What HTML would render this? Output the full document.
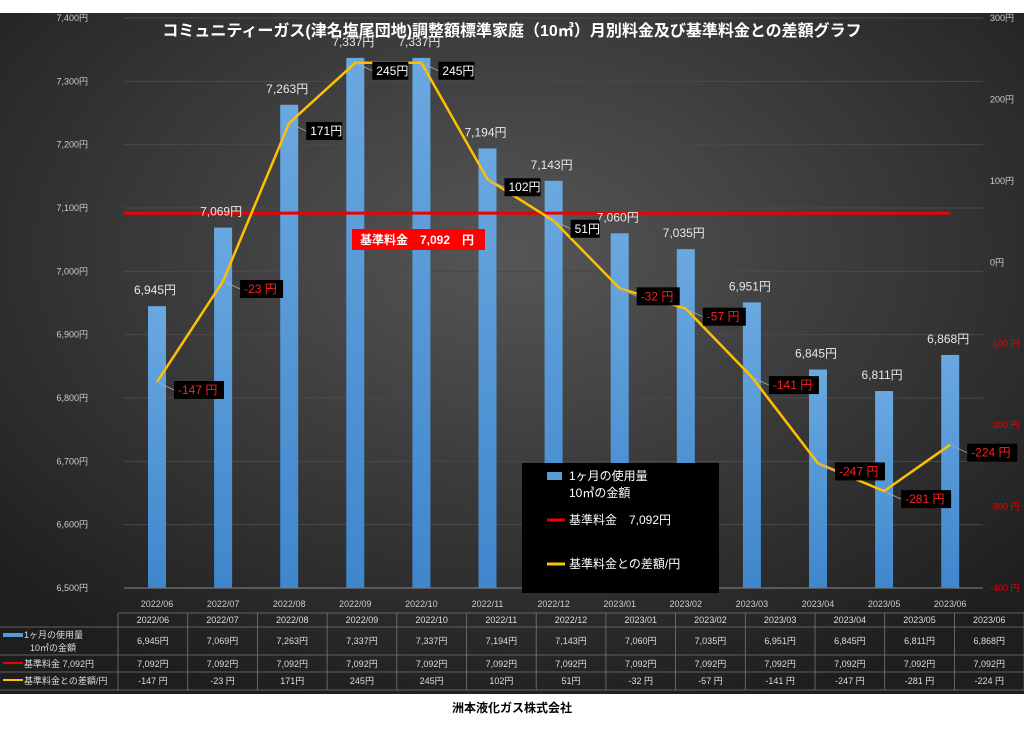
<!DOCTYPE html>
<html><head><meta charset="utf-8">
<style>
html,body{margin:0;padding:0;background:#fff;}
body{width:1024px;height:724px;overflow:hidden;font-family:"Liberation Sans","Noto Sans CJK JP",sans-serif;}
svg text{font-family:"Liberation Sans","Noto Sans CJK JP",sans-serif;}
</style></head>
<body>
<svg id="chart" width="1024" height="724" viewBox="0 0 1024 724" xmlns="http://www.w3.org/2000/svg">
<defs>
<radialGradient id="bg" cx="0.5" cy="0.35" r="0.7">
<stop offset="0" stop-color="#565656"/><stop offset="1" stop-color="#1e1e1e"/>
</radialGradient>
<linearGradient id="barg" x1="0" y1="0" x2="0" y2="1"><stop offset="0" stop-color="#6aa8e0"/><stop offset="1" stop-color="#3f86cc"/></linearGradient>
</defs>
<rect x="0" y="13" width="1024" height="681" fill="url(#bg)"/>
<g id="grid"></g>
<g id="axes"></g>
<g id="bars"></g>
<g id="lines"></g>
<g id="labels"></g>
<text x="512" y="36" text-anchor="middle" fill="#fff" font-size="16" font-weight="bold">コミュニティーガス(津名塩尾団地)調整額標準家庭（10㎥）月別料金及び基準料金との差額グラフ</text>
<g>
<rect x="522" y="463" width="197" height="130" fill="#000"/>
<rect x="547" y="472" width="15" height="8" fill="#5b9bd5"/>
<text x="569" y="480" fill="#fff" font-size="12">1ヶ月の使用量</text>
<text x="569" y="497" fill="#fff" font-size="12">10㎥の金額</text>
<line x1="547" y1="520" x2="565" y2="520" stroke="#e00" stroke-width="3"/>
<text x="569" y="524" fill="#fff" font-size="12">基準料金　7,092円</text>
<line x1="547" y1="564" x2="565" y2="564" stroke="#ffc000" stroke-width="3"/>
<text x="569" y="568" fill="#fff" font-size="12">基準料金との差額/円</text>
</g>
<g id="table"></g>
<text x="512" y="712" text-anchor="middle" fill="#000" font-size="12" font-weight="bold">洲本液化ガス株式会社</text>
</svg>
<script>
const months=["2022/06","2022/07","2022/08","2022/09","2022/10","2022/11","2022/12","2023/01","2023/02","2023/03","2023/04","2023/05","2023/06"];
const amounts=[6945,7069,7263,7337,7337,7194,7143,7060,7035,6951,6845,6811,6868];
const baseFee=7092;
const diffs=[-147,-23,171,245,245,102,51,-32,-57,-141,-247,-281,-224];
const leftTicks=[6500,6600,6700,6800,6900,7000,7100,7200,7300,7400];
const rightTicks=[-400,-300,-200,-100,0,100,200,300];
const NS="http://www.w3.org/2000/svg";
function mk(tag,attrs,parent,txt){const e=document.createElementNS(NS,tag);for(const k in attrs)e.setAttribute(k,attrs[k]);if(txt!==undefined)e.textContent=txt;parent.appendChild(e);return e;}
const yL=v=>588-(v-6500)*(570/900);
const yR=v=>588-(v+400)*(570/700);
const xC=i=>157+i*66.1;
const fmt=v=>v.toLocaleString("en-US");
const grid=document.getElementById("grid"),axes=document.getElementById("axes"),bars=document.getElementById("bars"),lines=document.getElementById("lines"),labels=document.getElementById("labels"),table=document.getElementById("table");
leftTicks.forEach(t=>{
  const l=mk("line",{x1:124,x2:983,y1:yL(t),y2:yL(t),stroke:t===6500?"#888":"#4a4a4a","stroke-width":1},grid);
  
  
  const tx=mk("text",{x:88,y:yL(t)+3,"text-anchor":"end",fill:"#ccc","font-size":9},axes,fmt(t)+"円");
  
  
});
rightTicks.forEach(t=>{
  const tx=mk("text",{x:990,y:yR(t)+3,fill:t<0?"#e00":"#ccc","font-size":9},axes,t<0?t+" 円":t+"円");
  
  
});
months.forEach((m,i)=>{
  const tx=mk("text",{x:xC(i),y:607,"text-anchor":"middle",fill:"#ccc","font-size":9},axes,m);
  
  
});
amounts.forEach((v,i)=>{
  const r=mk("rect",{x:xC(i)-9,y:yL(v),width:18,height:588-yL(v),fill:"url(#barg)"},bars);
  
  
  const t=mk("text",{x:xC(i)-2,y:yL(v)-12,"text-anchor":"middle",fill:"#e8e8e8","font-size":12},labels,fmt(v)+"円");
  
  
});
const base=mk("line",{x1:124,x2:950,y1:yL(baseFee),y2:yL(baseFee),stroke:"#e00","stroke-width":3},lines);


const bl=mk("g",{},labels);


mk("rect",{x:352,y:229,width:133,height:21,fill:"#f00"},bl);
mk("text",{x:360,y:244,fill:"#fff","font-size":12,"font-weight":"bold"},bl,"基準料金　"+fmt(baseFee)+"　円");
const pts=diffs.map((d,i)=>xC(i)+","+yR(d)).join(" ");
const pl=mk("polyline",{points:pts,fill:"none",stroke:"#ffc000","stroke-width":2.5,"stroke-linejoin":"round"},lines);


diffs.forEach((d,i)=>{
  const s=d<0?d+" 円":d+"円";
  const w=s.length*7+8;
  const x=xC(i)+17, y=yR(d)+8;
  const g=mk("g",{},labels);
  
  
  mk("line",{x1:xC(i),y1:yR(d),x2:x,y2:y,stroke:"#aaa","stroke-width":0.8},g);
  mk("rect",{x:x,y:y-9,width:w,height:18,fill:"#000"},g);
  mk("text",{x:x+4,y:y+4,fill:d<0?"#ff2020":"#fff","font-size":12},g,s);
});
// table
const cw=69.7,cx0=118;
const rowsY=[613,627,655,672,690];
rowsY.forEach(y=>{mk("line",{x1:cx0,x2:1024,y1:y,y2:y,stroke:"#777","stroke-width":0.8},table);});
mk("line",{x1:0,x2:cx0,y1:627,y2:627,stroke:"#777","stroke-width":0.8},table);
mk("line",{x1:0,x2:cx0,y1:655,y2:655,stroke:"#777","stroke-width":0.8},table);
mk("line",{x1:0,x2:cx0,y1:672,y2:672,stroke:"#777","stroke-width":0.8},table);
mk("line",{x1:0,x2:cx0,y1:690,y2:690,stroke:"#777","stroke-width":0.8},table);
for(let i=0;i<=13;i++){mk("line",{x1:cx0+i*cw,x2:cx0+i*cw,y1:613,y2:690,stroke:"#777","stroke-width":0.8},table);}
months.forEach((m,i)=>{
  const c=cx0+i*cw+cw/2;
  const cells=[[m,623],[fmt(amounts[i])+"円",644],[fmt(baseFee)+"円",667],[diffs[i]<0?diffs[i]+" 円":diffs[i]+"円",684]];
  cells.forEach(([s,y])=>{
    const t=mk("text",{x:c,y:y,"text-anchor":"middle",fill:"#ddd","font-size":9},table,s);
    
    
  });
});
mk("rect",{x:3,y:633,width:20,height:4,fill:"#5b9bd5"},table);
mk("text",{x:24,y:638,fill:"#ddd","font-size":9},table,"1ヶ月の使用量");
mk("text",{x:30,y:651,fill:"#ddd","font-size":9},table,"10㎥の金額");
mk("rect",{x:3,y:662,width:20,height:2,fill:"#e00"},table);
mk("text",{x:24,y:667,fill:"#ddd","font-size":9},table,"基準料金  7,092円");
mk("rect",{x:3,y:679,width:20,height:2,fill:"#ffc000"},table);
mk("text",{x:24,y:684,fill:"#ddd","font-size":9},table,"基準料金との差額/円");
</script>
</body></html>
